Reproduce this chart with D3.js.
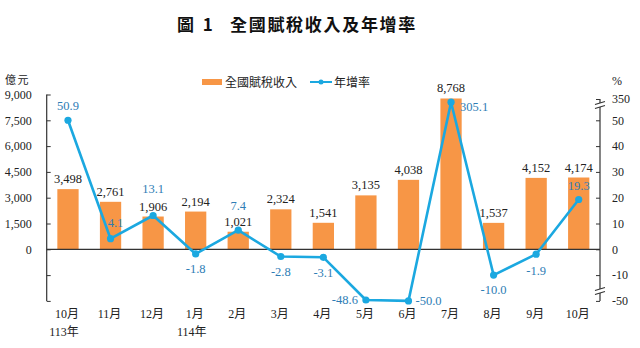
<!DOCTYPE html>
<html><head><meta charset="utf-8">
<script src="https://cdn.jsdelivr.net/npm/d3@7"></script>
<style>
body{margin:0;background:#fff;}
svg{display:block;}
</style></head>
<body>
<svg id="chart" width="640" height="348"></svg>
<script>
// ---- data ----
const months = ["10月","11月","12月","1月","2月","3月","4月","5月","6月","7月","8月","9月","10月"];
const yearLabels = ["113年","","","114年","","","","","","","","",""];
const revenue = [3498,2761,1906,2194,1021,2324,1541,3135,4038,8768,1537,4152,4174];
const growth = [50.9,4.1,13.1,-1.8,7.4,-2.8,-3.1,-48.6,-50.0,305.1,-10.0,-1.9,19.3];
const leftTicks = [-3000,-1500,0,1500,3000,4500,6000,7500,9000];
const rightTicks = [-50,-10,0,10,20,30,40,50,350];
const seriesNames = ["全國賦稅收入","年增率"];
const titleNum = "圖 1";
const titleText = "全國賦稅收入及年增率";
// label offsets for growth labels (layout)
const growthLabelPos = [[0,-15,"middle"],[5,-16,"middle"],[0,-27,"middle"],[0,15,"middle"],[0,-25,"middle"],[0,15,"middle"],[0,15,"middle"],[-8,0,"end"],[7,0,"start"],[9,4,"start"],[0,15,"middle"],[0,16,"middle"],[0,-14,"middle"]];

const svg = d3.select("#chart");
const numFont = "'Liberation Serif','Noto Sans CJK TC',serif";
const cjkFont = "'Noto Sans CJK TC','Liberation Serif',sans-serif";
const orange = "#F79646", blue = "#1BA8E0", blueText = "#2E7DB5", dark = "#222";
const fmt1 = d => d3.format(".1f")(d).replace("\u2212","-");

const x = d3.scaleBand().domain(d3.range(months.length)).range([46.7, 600]).paddingInner(0.5).paddingOuter(0.25);
const yL = d3.scaleLinear().domain([-3000, 9000]).range([300.9, 94.5]);
const yR = d3.scaleLinear().domain([-50, -10, 50, 350]).range([300.9, 275.1, 120.3, 99]);

// title
svg.append("text").attr("x",177).attr("y",31).attr("font-family",cjkFont).attr("font-weight","bold")
  .attr("font-size",17).attr("letter-spacing",2.5).attr("fill","#111").text(titleNum);
svg.append("text").attr("x",230).attr("y",31).attr("font-family",cjkFont).attr("font-weight","bold")
  .attr("font-size",17).attr("letter-spacing",1.7).attr("fill","#111").text(titleText);

// units
svg.append("text").attr("x",5).attr("y",84).attr("font-family",cjkFont).attr("font-size",11).attr("letter-spacing",1.5).attr("fill",dark).text("億元");
svg.append("text").attr("x",612).attr("y",85).attr("font-family",numFont).attr("font-size",12).attr("fill",dark).text("%");

// legend
svg.append("rect").attr("x",202).attr("y",79).attr("width",20).attr("height",6).attr("fill",orange);
svg.append("text").attr("x",225).attr("y",86.5).attr("font-family",cjkFont).attr("font-size",12).attr("fill",dark).text(seriesNames[0]);
svg.append("line").attr("x1",310).attr("x2",332).attr("y1",82).attr("y2",82).attr("stroke",blue).attr("stroke-width",2);
svg.append("circle").attr("cx",321).attr("cy",82).attr("r",2.5).attr("fill",blue);
svg.append("text").attr("x",334).attr("y",86.5).attr("font-family",cjkFont).attr("font-size",12).attr("fill",dark).text(seriesNames[1]);

// bars
svg.append("g").selectAll("rect").data(revenue).join("rect")
  .attr("x",(d,i)=>x(i)).attr("width",x.bandwidth())
  .attr("y",d=>yL(d)).attr("height",d=>yL(0)-yL(d)).attr("fill",orange);

// bar labels
svg.append("g").selectAll("text").data(revenue).join("text")
  .attr("x",(d,i)=>x(i)+x.bandwidth()/2).attr("y",d=>yL(d)-6)
  .attr("text-anchor","middle").attr("font-family",numFont).attr("font-size",12.5).attr("fill",dark)
  .text(d=>d3.format(",")(d));

// left axis
const gL = svg.append("g").attr("transform","translate(46.7,0)");
gL.call(d3.axisRight(yL).tickValues(leftTicks).tickSize(4).tickFormat(d=>d<0?"":d3.format(",")(d)));
gL.select(".domain").attr("d",`M0,${yL(-3000)}V${yL(9000)}`).attr("stroke","#333").attr("stroke-width",1.2);
gL.selectAll(".tick line").attr("stroke","#333");
gL.selectAll(".tick text").attr("x",-15).attr("text-anchor","end").attr("font-family",numFont).attr("font-size",12).attr("fill",dark);

// right axis
const gR = svg.append("g").attr("transform","translate(600,0)");
gR.call(d3.axisLeft(yR).tickValues(rightTicks).tickSize(4).tickFormat(d=>String(d)));
gR.select(".domain").attr("d",`M0,${yR(-50)}V${yR(350)}`).attr("stroke","#333").attr("stroke-width",1.2);
gR.selectAll(".tick line").attr("stroke","#333");
gR.selectAll(".tick text").attr("x",12).attr("text-anchor","start").attr("font-family",numFont).attr("font-size",12).attr("fill",dark);
// axis break marks
[[105],[291]].forEach(([cy])=>{
  gR.append("rect").attr("x",-4).attr("y",cy-2).attr("width",8).attr("height",4).attr("fill","#fff");
  gR.append("line").attr("x1",-5).attr("x2",5).attr("y1",cy-0.5).attr("y2",cy-3.5).attr("stroke","#333").attr("stroke-width",1.1);
  gR.append("line").attr("x1",-5).attr("x2",5).attr("y1",cy+3.5).attr("y2",cy+0.5).attr("stroke","#333").attr("stroke-width",1.1);
});

// zero line
svg.append("line").attr("x1",46.7).attr("x2",600).attr("y1",yL(0)).attr("y2",yL(0)).attr("stroke","#333").attr("stroke-width",1.2);

// growth line
const cx = i=>x(i)+x.bandwidth()/2;
svg.append("path").datum(growth)
  .attr("d",d3.line().x((d,i)=>cx(i)).y(d=>yR(d)))
  .attr("fill","none").attr("stroke",blue).attr("stroke-width",2.6).attr("stroke-linejoin","round");
svg.append("g").selectAll("circle").data(growth).join("circle")
  .attr("cx",(d,i)=>cx(i)).attr("cy",d=>yR(d)).attr("r",3.6).attr("fill",blue);
svg.append("g").selectAll("text").data(growth).join("text")
  .attr("x",(d,i)=>cx(i)+growthLabelPos[i][0]).attr("y",(d,i)=>yR(d)+growthLabelPos[i][1])
  .attr("dy","0.35em").attr("text-anchor",(d,i)=>growthLabelPos[i][2])
  .attr("font-family",numFont).attr("font-size",12.5).attr("fill",blueText)
  .text(d=>fmt1(d));

// x labels
svg.append("g").selectAll("text").data(months).join("text")
  .attr("x",(d,i)=>cx(i)-1).attr("y",318).attr("text-anchor","middle")
  .attr("font-family",numFont).attr("font-size",12).attr("fill",dark).text(d=>d);
svg.append("g").selectAll("text").data(yearLabels).join("text")
  .attr("x",(d,i)=>cx(i)-4).attr("y",336).attr("text-anchor","middle")
  .attr("font-family",numFont).attr("font-size",12).attr("fill",dark).text(d=>d);
</script>
</body></html>
